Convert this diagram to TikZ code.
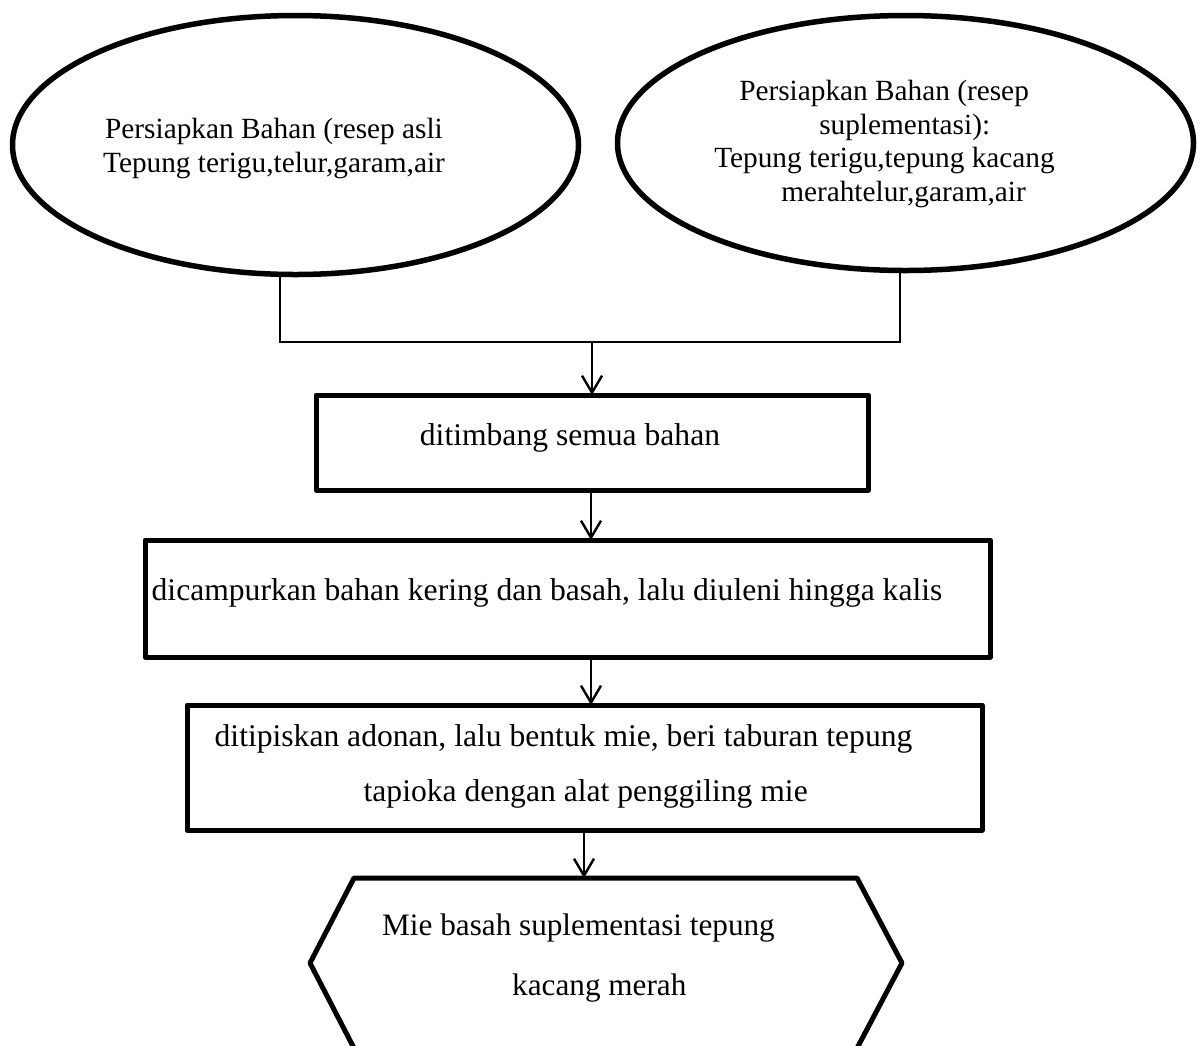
\documentclass[tikz,border=0pt]{standalone}
\usepackage{fontspec}
\setmainfont{Liberation Serif}
\usetikzlibrary{arrows.meta,shapes.geometric}
\begin{document}
\begin{tikzpicture}[x=1pt,y=-1pt,
  shapeline/.style={draw=black, line width=5pt, line join=round},
  ovalbox/.style={shapeline, line width=5.5pt, ellipse, inner sep=0pt, outer sep=0pt},
  procbox/.style={shapeline, rectangle, inner sep=0pt, outer sep=0pt},
  etxt/.style={font=\fontsize{29.3}{33.5}\selectfont, inner sep=0pt},
  btxt/.style={font=\fontsize{31.6}{36}\selectfont, inner sep=0pt},
  link/.style={draw=black, line width=1.6pt},
  arr/.style={draw=black, line width=2.4pt, -{Straight Barb[length=17pt,width=20pt]}}]
\useasboundingbox[fill=white] (0,0) rectangle (1201,1045);

% ellipses
\node[ovalbox, minimum width=566pt, minimum height=259pt] (e1) at (295.5,145) {};
\node[ovalbox, minimum width=576pt, minimum height=255pt] (e2) at (905.5,143) {};
\node[etxt, align=center] (t1) at (274,148.5) {Persiapkan Bahan (resep asli\\Tepung terigu,telur,garam,air};
\node[etxt, align=left] (t2) at (884.5,144) {\hspace*{25pt}Persiapkan Bahan (resep\\\hspace*{105pt}suplementasi):\\Tepung terigu,tepung kacang\\\hspace*{67pt}merahtelur,garam,air};

% boxes
\node[procbox, minimum width=552pt, minimum height=95pt] (b1) at (592,442.5) {};
\node[btxt] (bt1) at (570,438) {ditimbang semua bahan};
\node[procbox, minimum width=845pt, minimum height=117pt] (b2) at (567.5,598.5) {};
\node[btxt] (bt2) at (547,593) {dicampurkan bahan kering dan basah, lalu diuleni hingga kalis};
\node[procbox, minimum width=795pt, minimum height=125pt] (b3) at (584.5,767.5) {};
\node[btxt, align=left, font=\fontsize{31.6}{55}\selectfont] (bt3) at (563.5,766) {ditipiskan adonan, lalu bentuk mie, beri taburan tepung\\\hspace*{149pt}tapioka dengan alat penggiling mie};

% hexagon (its lower edge lies below the picture's frame)
\coordinate (hx) at (584,878);
\draw[shapeline] (354,878) -- (857,878) -- (902,963) -- (855,1052) -- (356,1052) -- (310,963) -- cycle;
\node[btxt, align=left, font=\fontsize{31.2}{60}\selectfont] (ht) at (578.5,958) {Mie basah suplementasi tepung\\\hspace*{130pt}kacang merah};

% connectors
\coordinate (cl) at (280,342);
\coordinate (cr) at (900,342);
\coordinate (ax) at (592,0);
\coordinate (ax2) at (591,0);
\draw[link] (e1.south -| cl) -- (cl) -- (cr) -- (e2.south -| cr);
\draw[arr] (cl -| ax) -- (b1.north -| ax);
\draw[arr] (b1.south -| ax2) -- (b2.north -| ax2);
\draw[arr] (b2.south -| ax2) -- (b3.north -| ax2);
\draw[arr] (b3.south -| hx) -- (hx);
\end{tikzpicture}
\end{document}
